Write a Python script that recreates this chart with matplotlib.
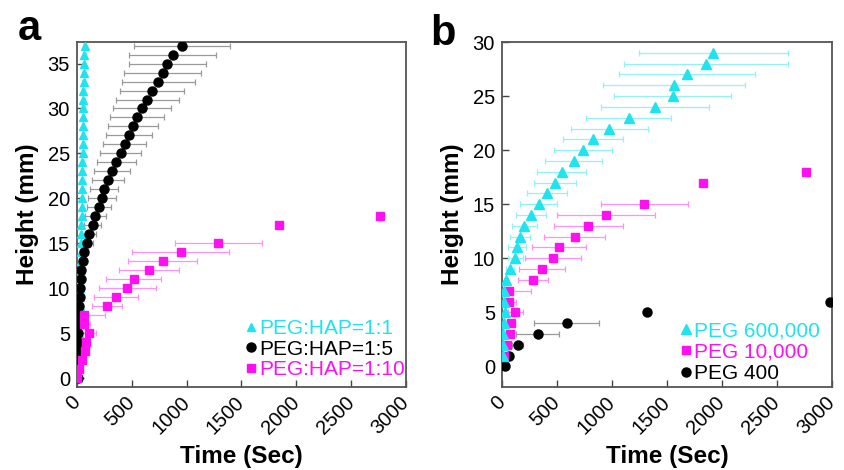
import numpy as np
import matplotlib.pyplot as plt

plt.rcParams['font.family'] = ['Liberation Sans', 'DejaVu Sans']

# ---- panel a data ----
h_a_cyan = list(range(0, 38))
t_a_cyan = [5, 8, 12, 15, 18, 20, 22, 24, 26, 28, 30, 32, 33, 35, 36, 38, 40, 41,
            42, 44, 45, 46, 48, 49, 50, 52, 53, 54, 55, 56, 57, 58, 59, 60, 62, 64, 66, 70]
e_a_cyan = [2, 3, 3, 4, 4, 5, 5, 5, 6, 6, 6, 7, 7, 7, 8, 8, 8, 8,
            9, 9, 9, 9, 10, 10, 10, 10, 11, 11, 11, 11, 12, 12, 12, 12, 13, 13, 14, 15]

h_a_black = list(range(0, 38))
t_a_black = [8, 10, 10, 12, 12, 13, 14, 15, 20, 25, 27, 34, 40, 53, 65, 88, 110, 143, 167,
             199, 228, 246, 283, 319, 359, 398, 435, 477, 511, 550, 593, 641, 684, 742,
             781, 824, 872, 960]
e_a_black = [4, 4, 5, 5, 6, 6, 7, 8, 15, 18, 20, 22, 25, 30, 40, 55, 68, 80, 95,
             110, 125, 130, 148, 160, 175, 190, 196, 210, 231, 245, 266, 288, 296, 335,
             350, 351, 395, 436]

h_a_mag = [0, 1, 2, 3, 4, 5, 6, 7, 8, 9, 10, 11, 12, 13, 14, 15, 17, 18]
t_a_mag = [3, 18, 43, 70, 85, 109, 61, 61, 274, 359, 459, 517, 660, 781, 945, 1289, 1842, 2766]
e_a_mag = [3, 8, 12, 20, 30, 68, 60, 195, 140, 202, 258, 251, 273, 316, 443, 395, 0, 0]

# ---- panel b data ----
h_b_cyan = list(range(1, 30))
t_b_cyan = [5, 5, 9, 15, 30, 15, 15, 39, 73, 121, 136, 166, 203, 263, 333, 408, 484, 541,
            650, 738, 826, 977, 1152, 1391, 1551, 1566, 1681, 1854, 1920]
e_b_cyan = [3, 3, 5, 8, 10, 8, 8, 15, 40, 68, 80, 90, 113, 135, 167, 180, 190, 219,
            263, 262, 272, 354, 385, 495, 529, 647, 617, 747, 679]

h_b_mag = [1, 2, 3, 4, 5, 6, 7, 8, 9, 10, 11, 12, 13, 14, 15, 17, 18]
t_b_mag = [15, 45, 70, 85, 121, 67, 67, 281, 363, 463, 520, 659, 786, 946, 1294, 1823, 2767]
e_b_mag = [8, 15, 25, 25, 68, 63, 196, 139, 207, 255, 245, 275, 316, 445, 393, 0, 0]

h_b_black = [0, 1, 2, 3, 4, 5, 6]
t_b_black = [30, 60, 142, 324, 590, 1315, 2985]
e_b_black = [10, 20, 50, 196, 295, 0, 0]

CYAN = '#1FE3EE'
CYAN_E = '#8FF3F8'
MAG = '#FF10F0'
MAG_E = '#FF90F8'
BLK = 'black'
BLK_E = '#9A9A9A'

fig = plt.figure(figsize=(8.44, 4.70), dpi=100)
ax_a = fig.add_axes([0.0912, 0.1766, 0.3898, 0.734])
ax_b = fig.add_axes([0.5948, 0.1766, 0.3910, 0.734])


def series(ax, t, h, e, mk, ms, col, ecol, lab):
    ax.errorbar(t, h, xerr=e, fmt='none', ecolor=ecol, elinewidth=0.9,
                capsize=2, capthick=0.9, zorder=2)
    ax.plot(t, h, linestyle='none', marker=mk, ms=ms, color=col,
            mec=col, label=lab, zorder=3)


series(ax_a, t_a_cyan, h_a_cyan, e_a_cyan, '^', 6.0, CYAN, CYAN_E, 'PEG:HAP=1:1')
series(ax_a, t_a_black, h_a_black, e_a_black, 'o', 6.5, BLK, BLK_E, 'PEG:HAP=1:5')
series(ax_a, t_a_mag, h_a_mag, e_a_mag, 's', 5.5, MAG, MAG_E, 'PEG:HAP=1:10')

series(ax_b, t_b_black, h_b_black, e_b_black, 'o', 6.5, BLK, BLK_E, 'PEG 400')
series(ax_b, t_b_mag, h_b_mag, e_b_mag, 's', 6.0, MAG, MAG_E, 'PEG 10,000')
series(ax_b, t_b_cyan, h_b_cyan, e_b_cyan, '^', 7.5, CYAN, CYAN_E, 'PEG 600,000')

ax_a.set_ylim(-1, 37.4)
ax_a.set_yticks([0, 5, 10, 15, 20, 25, 30, 35])
ax_b.set_ylim(-1.9, 30)
ax_b.set_yticks([0, 5, 10, 15, 20, 25, 30])

for ax in (ax_a, ax_b):
    ax.set_xlim(0, 3000)
    ax.set_xticks([0, 500, 1000, 1500, 2000, 2500, 3000])
    ax.tick_params(direction='in', length=5, width=1, colors='#444444',
                   labelcolor='black', labelsize=14.5)
    ax.tick_params(axis='x', pad=9)
    ax.tick_params(axis='y', pad=5)
    for lbl in ax.get_xticklabels():
        lbl.set_rotation(45)
        lbl.set_ha('right')
        lbl.set_va('center')
        lbl.set_rotation_mode('anchor')
    for sp in ax.spines.values():
        sp.set_color('#555555')
        sp.set_linewidth(1.3)
    ax.set_xlabel('Time (Sec)', fontsize=17.5, fontweight='bold', labelpad=5)
    ax.set_ylabel('Height (mm)', fontsize=17.5, fontweight='bold', labelpad=6)

# legends: order as in the picture
h, l = ax_a.get_legend_handles_labels()
ax_a.legend(h, l, loc='lower right', bbox_to_anchor=(1.01, 0.01),
            frameon=False, fontsize=15,
            handlelength=0.4, handletextpad=0.2, labelspacing=0.08,
            borderaxespad=0.0, borderpad=0.2, labelcolor='markerfacecolor')

h, l = ax_b.get_legend_handles_labels()
ax_b.legend(h[::-1], l[::-1], loc='lower right', bbox_to_anchor=(0.975, 0.0),
            frameon=False, fontsize=15,
            handlelength=0.4, handletextpad=0.15, labelspacing=0.1,
            borderaxespad=0.0, borderpad=0.2, labelcolor='markerfacecolor')

fig.text(0.021, 0.915, 'a', fontsize=30, fontweight='bold')
fig.text(0.510, 0.905, 'b', fontsize=30, fontweight='bold')

fig.savefig('out.png', dpi=100)
